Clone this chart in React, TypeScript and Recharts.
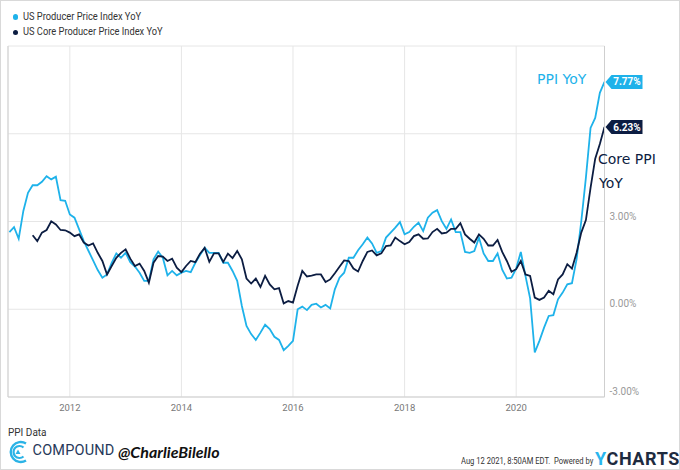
import React from 'react';
import { LineChart, Line, XAxis, YAxis, CartesianGrid, ReferenceLine } from 'recharts';

// x = month-end index relative to Jan 2012 (0 = end of Jan 2012 ~ Feb 1)
const PPI_START = -13; // first PPI YoY reading (Nov 2010)
const CORE_START = -8; // first Core PPI YoY reading (Apr 2011)

const ppiYoY = [
  2.64, 2.81, 2.41, 3.36, 3.98, 4.24, 4.24, 4.36, 4.55, 4.44, 4.53, 3.73, 3.71,
  3.24, 3.13, 2.73, 2.33, 2.0, 1.67, 1.34, 1.08, 1.19, 1.59, 1.91, 1.76,
  1.93, 1.61, 1.46, 1.25, 0.97, 0.97, 1.71, 1.97, 1.76, 1.16, 1.31, 1.16,
  1.25, 1.31, 1.27, 1.59, 1.85, 2.1, 1.93, 1.93, 1.93, 1.59, 1.59, 1.31,
  0.97, 0.11, -0.57, -0.85, -1.05, -0.8, -0.53, -0.68, -0.94, -1.05, -1.4, -1.25,
  -1.08, 0.0, 0.09, -0.03, 0.15, 0.19, 0.06, 0.15, 0.03, 0.68, 1.08, 1.25,
  1.76, 1.76, 2.02, 2.22, 2.45, 2.25, 1.93, 1.99, 2.45, 2.62, 2.79, 2.98,
  2.56, 2.64, 2.82, 2.96, 2.67, 3.13, 3.3, 3.39, 3.01, 2.75, 3.07, 2.64,
  2.64, 1.96, 1.93, 1.99, 2.45, 1.91, 1.65, 1.65, 1.91, 1.35, 1.05, 1.08,
  1.39, 1.96, 1.14, 0.37, -1.48, -1.08, -0.63, -0.23, -0.2, 0.34, 0.57, 0.85,
  0.89, 1.71, 3.0, 4.5, 6.2, 6.54, 7.4, 7.77,
];

const corePpiYoY = [
  2.53, 2.33, 2.62, 2.71, 3.01, 2.9, 2.71, 2.7,
  2.62, 2.5, 2.56, 2.28, 2.18, 2.25, 1.93, 1.65, 1.19, 1.48, 1.76, 1.93,
  2.05, 1.73, 1.48, 1.56, 1.31, 0.91, 1.59, 1.82, 1.8, 1.65, 1.73, 1.42,
  1.27, 1.48, 1.65, 1.61, 1.9, 2.1, 1.62, 1.91, 1.91, 1.62, 1.9, 1.75,
  1.99, 1.71, 1.05, 0.88, 1.05, 0.76, 1.14, 0.85, 0.68, 0.72, 0.2, 0.28,
  0.23, 0.8, 1.31, 1.12, 1.15, 1.19, 1.19, 0.93, 1.02, 1.23, 1.45, 1.67,
  1.65, 1.39, 1.29, 1.65, 1.96, 2.01, 1.84, 1.91, 2.16, 2.18, 2.45, 2.33,
  2.22, 2.3, 2.5, 2.56, 2.41, 2.42, 2.64, 2.75, 2.59, 2.62, 2.75, 2.75,
  2.94, 2.56, 2.41, 2.28, 2.56, 2.41, 2.18, 2.18, 2.37, 1.96, 1.65, 1.28,
  1.37, 1.65, 1.19, 1.14, 0.4, 0.32, 0.4, 0.63, 0.51, 1.02, 1.19, 1.54,
  1.39, 1.93, 2.62, 3.05, 4.15, 5.15, 5.65, 6.23,
];

const yearTicks = [0, 24, 48, 72, 96];
const yearLabels = ['2012', '2014', '2016', '2018', '2020'];
const yTicks = [-3, 0, 3, 6, 9];
const hiddenYLabels = [6, 9];
const X_DOMAIN: [number, number] = [-13.3, 115];

const PPI_COLOR = '#1EB2EA';
const CORE_COLOR = '#0C1D42';
const HAND_FONT = '"Comic Sans MS", "DejaVu Sans", sans-serif';

const data = ppiYoY.map((v, i) => {
  const x = PPI_START + i;
  const ci = x - CORE_START;
  return { x, ppi: v, core: ci >= 0 && ci < corePpiYoY.length ? corePpiYoY[ci] : null };
});
const lastIndex = data.length - 1;

const XTick = (props: any) => {
  const { x, y, payload } = props;
  const i = yearTicks.indexOf(payload.value);
  return (
    <text x={x} y={y} dy={2} textAnchor="middle" dominantBaseline="central" fontSize={9.5} fill="#777" fontFamily="Roboto, sans-serif">
      {yearLabels[i]}
    </text>
  );
};

const YTick = (props: any) => {
  const { x, y, payload } = props;
  if (hiddenYLabels.includes(payload.value)) return null;
  return (
    <text x={x} y={y} dx={-3} dy={-5.5} textAnchor="start" dominantBaseline="central" fontSize={10} fill="#999" fontFamily="Roboto, sans-serif">
      {payload.value.toFixed(2) + '%'}
    </text>
  );
};

const makeFlag = (color: string) => (props: any) => {
  const { x, y, index, value } = props;
  if (index !== lastIndex || value == null) return null;
  const h = 7;
  const d = `M${x + 1},${y} L${x + 7},${y - h} L${x + 38},${y - h} L${x + 38},${y + h} L${x + 7},${y + h} Z`;
  return (
    <g>
      <path d={d} fill={color} />
      <text x={x + 22.5} y={y} dominantBaseline="central" textAnchor="middle" fill="#fff" fontSize={10} fontWeight="bold" fontFamily="Roboto, sans-serif">
        {Number(value).toFixed(2) + '%'}
      </text>
    </g>
  );
};

const T = ({ x, cy, size, color, children, style }: any) => (
  <div
    style={{
      position: 'absolute',
      left: x,
      top: cy - size * 0.6,
      fontSize: size,
      lineHeight: `${size * 1.2}px`,
      color,
      whiteSpace: 'nowrap',
      transformOrigin: 'left center',
      ...style,
    }}
  >
    {children}
  </div>
);

export default function App() {
  return (
    <div style={{ position: 'absolute', left: 0, top: 0, width: 680, height: 470, background: '#fff', overflow: 'hidden', fontFamily: 'Roboto, sans-serif' }}>
      <div style={{ position: 'absolute', left: 0, top: 0 }}>
        <LineChart width={680} height={470} data={data} margin={{ top: 46, right: 0, bottom: 48, left: 8 }}>
          <CartesianGrid stroke="#e6e6e6" strokeWidth={1} />
          <XAxis
            dataKey="x"
            type="number"
            domain={X_DOMAIN}
            ticks={yearTicks}
            tick={<XTick />}
            tickLine={false}
            axisLine={{ stroke: '#cfcfcf' }}
            height={25}
            allowDataOverflow
          />
          <YAxis
            orientation="right"
            type="number"
            domain={[-3, 9]}
            ticks={yTicks}
            tick={<YTick />}
            tickLine={false}
            axisLine={{ stroke: '#cfcfcf' }}
            width={75.5}
            allowDataOverflow
          />
          <ReferenceLine x={X_DOMAIN[0]} stroke="#cfcfcf" />
          <Line
            dataKey="ppi"
            stroke={PPI_COLOR}
            strokeWidth={1.8}
            dot={false}
            isAnimationActive={false}
            label={makeFlag(PPI_COLOR)}
          />
          <Line
            dataKey="core"
            stroke={CORE_COLOR}
            strokeWidth={1.8}
            dot={false}
            isAnimationActive={false}
            label={makeFlag(CORE_COLOR)}
          />
        </LineChart>
      </div>

      {/* Legend */}
      <div style={{ position: 'absolute', left: 12.5, top: 14, width: 5.5, height: 5.5, borderRadius: 3, background: PPI_COLOR }} />
      <T x={23} cy={16.7} size={10} color="#333" style={{ transform: 'scaleX(0.93)' }}>US Producer Price Index YoY</T>
      <div style={{ position: 'absolute', left: 12.5, top: 29.5, width: 5.5, height: 5.5, borderRadius: 3, background: CORE_COLOR }} />
      <T x={23} cy={32.3} size={10} color="#333" style={{ transform: 'scaleX(0.93)' }}>US Core Producer Price Index YoY</T>

      {/* Annotations */}
      <T x={537} cy={79} size={14} color={PPI_COLOR} style={{ fontFamily: HAND_FONT }}>PPI YoY</T>
      <T x={598} cy={159.5} size={14} color={CORE_COLOR} style={{ fontFamily: HAND_FONT }}>Core PPI</T>
      <T x={599} cy={183.5} size={14} color={CORE_COLOR} style={{ fontFamily: HAND_FONT }}>YoY</T>

      {/* Footer */}
      <T x={8} cy={432.7} size={10} color="#333">PPI Data</T>
      <svg style={{ position: 'absolute', left: 7, top: 439 }} width={24} height={26} viewBox="0 0 24 26">
        <path d="M19 4.5 A10 10 0 1 0 19 21.5" fill="none" stroke="#2BB3E6" strokeWidth={2.4} />
        <path d="M16.5 8.5 A6 6 0 1 0 16.5 17.5" fill="none" stroke="#2BB3E6" strokeWidth={2.2} />
        <path d="M11 10.5 L13.5 15 L8.5 15 Z" fill="#2BB3E6" />
      </svg>
      <T x={32.5} cy={451} size={14.5} color="#27395A" style={{ letterSpacing: 0.2 }}>COMPOUND</T>
      <T x={118} cy={451.5} size={16} color="#111" style={{ fontStyle: 'italic', fontWeight: 'bold', fontFamily: 'Lato, sans-serif' }}>@CharlieBilello</T>
      <T x={461} cy={461} size={9.5} color="#333" style={{ transform: 'scaleX(0.8)' }}>Aug 12 2021, 8:50AM EDT.&nbsp; Powered by</T>
      <div style={{ position: 'absolute', left: 595, top: 448, fontSize: 18, lineHeight: '21px', fontWeight: 'bold', letterSpacing: 0.6, whiteSpace: 'nowrap' }}>
        <span style={{ color: '#29B6EE' }}>Y</span>
        <span style={{ color: '#1E2B3F' }}>CHARTS</span>
      </div>

      {/* Outer frame */}
      <div style={{ position: 'absolute', left: 0, top: 0, width: 680, height: 470, boxSizing: 'border-box', border: '1px solid #d9d9d9', pointerEvents: 'none' }} />
    </div>
  );
}
